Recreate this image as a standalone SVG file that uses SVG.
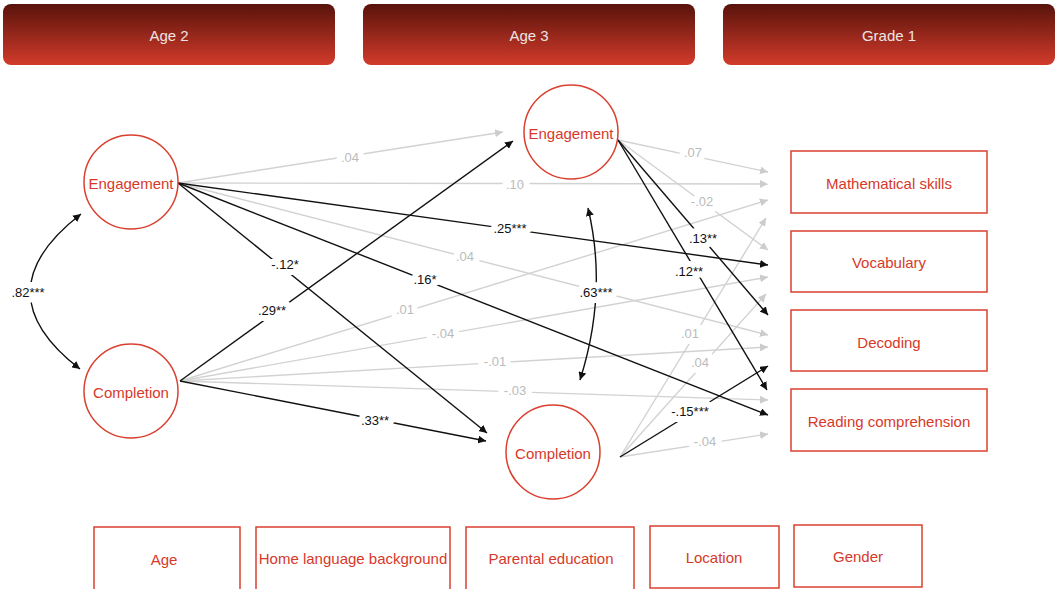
<svg xmlns="http://www.w3.org/2000/svg" width="1055" height="589" viewBox="0 0 1055 589">
<defs>
<linearGradient id="hdr" x1="0" y1="0" x2="0" y2="1">
<stop offset="0" stop-color="#58130b"/>
<stop offset="1" stop-color="#d23b2b"/>
</linearGradient>
<marker id="ab" viewBox="0 0 10 10" refX="10" refY="5" markerWidth="8" markerHeight="8" markerUnits="userSpaceOnUse" orient="auto-start-reverse"><path d="M0,0 L10,5 L0,10 z" fill="#111"/></marker>
<marker id="ag" viewBox="0 0 10 10" refX="10" refY="5" markerWidth="8" markerHeight="8" markerUnits="userSpaceOnUse" orient="auto"><path d="M0,0 L10,5 L0,10 z" fill="#cccccc"/></marker>
<style>
.hdr{fill:url(#hdr)}
.ht{font-family:"Liberation Sans",Arial,sans-serif;font-size:15px;fill:#ece4e2;text-anchor:middle;dominant-baseline:central}
.node{fill:#fff;stroke:#d9402f;stroke-width:1.5}
.nt{font-family:"Liberation Sans",Arial,sans-serif;font-size:15px;fill:#d6392a;text-anchor:middle;dominant-baseline:central}
.b{stroke:#111;stroke-width:1.4;fill:none;marker-end:url(#ab)}
.g{stroke:#d2d2d2;stroke-width:1.4;fill:none;marker-end:url(#ag)}
.cv{stroke:#111;stroke-width:1.4;fill:none;marker-start:url(#ab);marker-end:url(#ab)}
.lb{font-family:"Liberation Sans",Arial,sans-serif;font-size:13px;fill:#111;text-anchor:middle;dominant-baseline:central;stroke:#fff;stroke-width:12;paint-order:stroke;stroke-linejoin:round}
.lg{font-family:"Liberation Sans",Arial,sans-serif;font-size:13px;fill:#bbbbbb;text-anchor:middle;dominant-baseline:central;stroke:#fff;stroke-width:12;paint-order:stroke;stroke-linejoin:round}
</style>
</defs>
<rect width="1055" height="589" fill="#fff"/>
<g id="headers">
<g id="hdr-age2"><rect class="hdr" x="3" y="4" width="332" height="61" rx="8"/><text class="ht" x="169" y="35">Age 2</text></g>
<g id="hdr-age3"><rect class="hdr" x="363" y="4" width="332" height="61" rx="8"/><text class="ht" x="529" y="35">Age 3</text></g>
<g id="hdr-grade1"><rect class="hdr" x="723" y="4" width="332" height="61" rx="8"/><text class="ht" x="889" y="35">Grade 1</text></g>
</g>
<g id="connectors">
<line class="g" x1="178" y1="183" x2="503" y2="132"/>
<line class="g" x1="178" y1="183" x2="768" y2="184"/>
<line class="g" x1="178" y1="183" x2="768" y2="335"/>
<line class="g" x1="180" y1="381" x2="768" y2="200"/>
<line class="g" x1="180" y1="381" x2="768" y2="277"/>
<line class="g" x1="180" y1="381" x2="768" y2="347"/>
<line class="g" x1="180" y1="381" x2="768" y2="400"/>
<line class="g" x1="618" y1="140" x2="768" y2="172"/>
<line class="g" x1="618" y1="140" x2="768" y2="250"/>
<line class="g" x1="620" y1="457" x2="766" y2="218"/>
<line class="g" x1="620" y1="457" x2="766" y2="294"/>
<line class="g" x1="620" y1="457" x2="768" y2="434"/>
<line class="b" x1="178" y1="183" x2="768" y2="265"/>
<line class="b" x1="178" y1="183" x2="768" y2="415"/>
<line class="b" x1="178" y1="183" x2="487" y2="433"/>
<line class="b" x1="180" y1="381" x2="513" y2="141"/>
<line class="b" x1="180" y1="381" x2="486" y2="441"/>
<line class="b" x1="618" y1="140" x2="768" y2="315"/>
<line class="b" x1="618" y1="140" x2="767" y2="390"/>
<line class="b" x1="620" y1="457" x2="768" y2="366"/>
<path class="cv" d="M 81 214 Q -20 292 80 369"/>
<path class="cv" d="M 588 208 Q 608 292 580 380"/>
<text class="lg" x="350" y="157">.04</text>
<text class="lg" x="515" y="184">.10</text>
<text class="lb" x="510" y="228">.25***</text>
<text class="lg" x="465" y="256">.04</text>
<text class="lb" x="285" y="264">-.12*</text>
<text class="lb" x="425" y="279">.16*</text>
<text class="lb" x="272" y="310">.29**</text>
<text class="lg" x="405" y="309">.01</text>
<text class="lg" x="443" y="333">-.04</text>
<text class="lg" x="495" y="361">-.01</text>
<text class="lg" x="515" y="390">-.03</text>
<text class="lb" x="375" y="420">.33**</text>
<text class="lg" x="693" y="152">.07</text>
<text class="lg" x="702" y="201">-.02</text>
<text class="lb" x="703" y="238">.13**</text>
<text class="lb" x="689" y="271">.12**</text>
<text class="lb" x="596" y="292">.63***</text>
<text class="lg" x="690" y="333">.01</text>
<text class="lg" x="700" y="362">.04</text>
<text class="lb" x="690" y="411">-.15***</text>
<text class="lg" x="705" y="441">-.04</text>
<text class="lb" x="28" y="292">.82***</text>
</g>
<g id="n-eng2"><circle class="node" cx="131" cy="182" r="47"/><text class="nt" x="131" y="183">Engagement</text></g>
<g id="n-comp2"><circle class="node" cx="131" cy="391" r="47"/><text class="nt" x="131" y="392">Completion</text></g>
<g id="n-eng3"><circle class="node" cx="571" cy="132" r="47"/><text class="nt" x="571" y="133">Engagement</text></g>
<g id="n-comp3"><circle class="node" cx="553" cy="452" r="47"/><text class="nt" x="553" y="453">Completion</text></g>
<g id="n-math"><rect class="node" x="791" y="151" width="196" height="62"/><text class="nt" x="889" y="183">Mathematical skills</text></g>
<g id="n-vocab"><rect class="node" x="791" y="231" width="196" height="61"/><text class="nt" x="889" y="262">Vocabulary</text></g>
<g id="n-dec"><rect class="node" x="791" y="310" width="196" height="61"/><text class="nt" x="889" y="342">Decoding</text></g>
<g id="n-read"><rect class="node" x="791" y="389" width="196" height="62"/><text class="nt" x="889" y="421">Reading comprehension</text></g>
<g id="n-age"><rect class="node" x="94" y="527" width="146" height="64"/><text class="nt" x="164" y="559">Age</text></g>
<g id="n-home"><rect class="node" x="256" y="527" width="194" height="64"/><text class="nt" x="353" y="558">Home language background</text></g>
<g id="n-parent"><rect class="node" x="466" y="527" width="168" height="64"/><text class="nt" x="551" y="558">Parental education</text></g>
<g id="n-loc"><rect class="node" x="650" y="526" width="129" height="62"/><text class="nt" x="714" y="557">Location</text></g>
<g id="n-gender"><rect class="node" x="794" y="525" width="128" height="62"/><text class="nt" x="858" y="556">Gender</text></g>
</svg>
